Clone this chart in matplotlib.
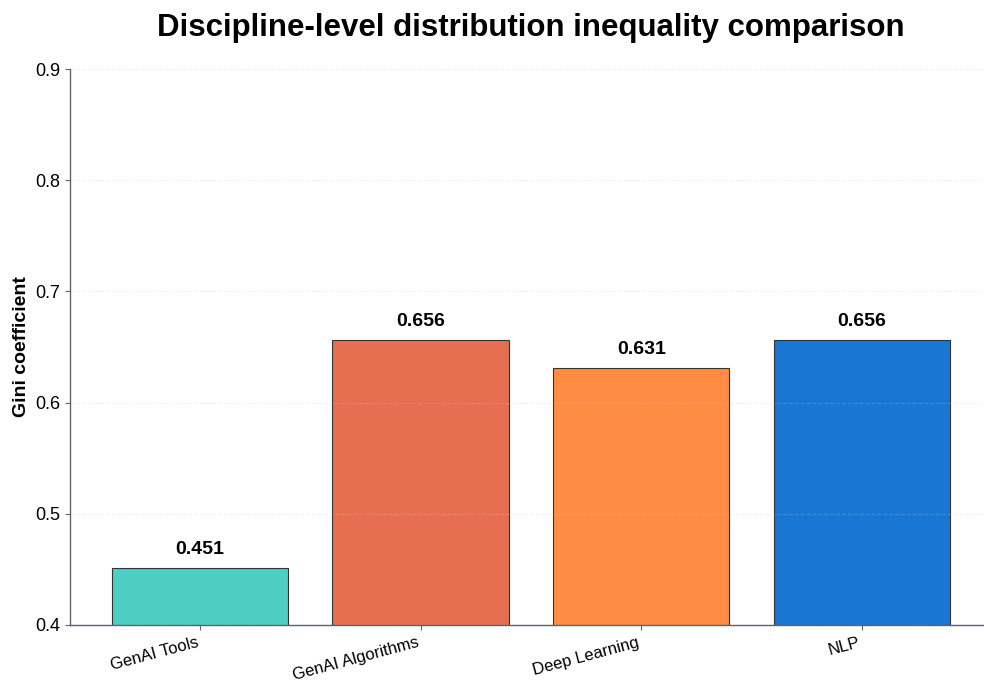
import numpy as np
import matplotlib.pyplot as plt

plt.rcParams['font.family'] = ['Liberation Sans', 'DejaVu Sans']

disciplines = ['GenAI Tools', 'GenAI Algorithms', 'Deep Learning', 'NLP']
gini = [0.451, 0.656, 0.631, 0.656]
colors = ['#4ECDC4', '#E76F51', '#FF8C42', '#1976D2']

fig = plt.figure(figsize=(9.84, 6.82), dpi=100)
ax = fig.add_axes([0.0711, 0.0836, 0.937, 0.8152])

x = np.arange(len(disciplines))
bars = ax.bar(x, gini, width=0.8, color=colors, edgecolor='#333333', linewidth=0.8)

# value labels above each bar
for b, v in zip(bars, gini):
    ax.text(b.get_x() + b.get_width() / 2, v + 0.009, f'{v:.3f}',
            ha='center', va='bottom', fontsize=14, fontweight='bold')

ax.set_ylim(0.4, 0.9)
ax.set_yticks([0.4, 0.5, 0.6, 0.7, 0.8, 0.9])
ax.set_xticks(x)
ax.set_xticklabels(disciplines, rotation=15, ha='right', fontsize=12)
ax.tick_params(axis='y', labelsize=13)
ax.tick_params(color='#5a6270')
ax.set_ylabel('Gini coefficient', fontsize=14, fontweight='bold')
ax.set_title('Discipline-level distribution inequality comparison',
             fontsize=22.5, fontweight='bold', pad=24)

ax.grid(axis='y', linestyle='--', alpha=0.25, color='#cccccc', linewidth=0.8)
ax.set_axisbelow(False)
for s in ['top', 'right']:
    ax.spines[s].set_visible(False)
for s in ['left', 'bottom']:
    ax.spines[s].set_color('#5a6270')
    ax.spines[s].set_linewidth(1.0)

plt.savefig('out.png', dpi=100)
